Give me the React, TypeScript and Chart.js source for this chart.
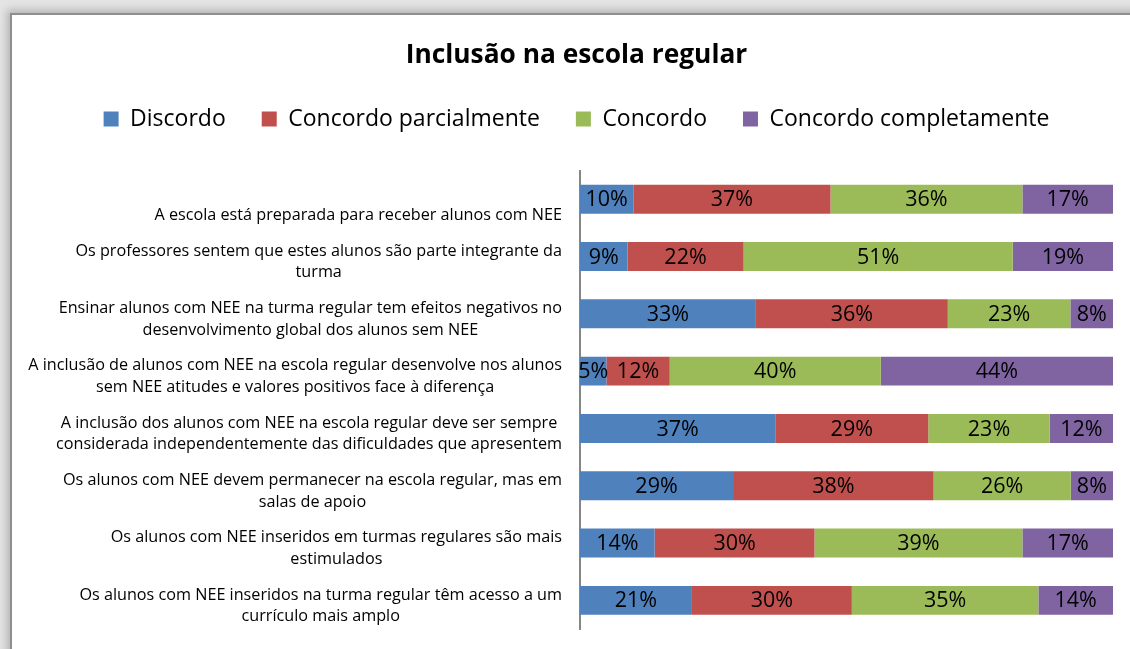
import React, { useEffect, useRef } from 'react';
import { Chart, registerables } from 'chart.js';

Chart.register(...registerables);

const FONT = '"Open Sans", "Noto Sans", sans-serif';

const title = 'Inclusão na escola regular';

const seriesNames = ['Discordo', 'Concordo parcialmente', 'Concordo', 'Concordo completamente'];
const seriesColors = ['#4F81BD', '#C0504D', '#9BBB59', '#8064A2'];

const categories: string[][] = [
  ['', 'A escola está preparada para receber alunos com NEE'],
  ['Os professores sentem que estes alunos são parte integrante da', 'turma'],
  ['Ensinar alunos com NEE na turma regular tem efeitos negativos no', 'desenvolvimento global dos alunos sem NEE'],
  ['A inclusão de alunos com NEE na escola regular desenvolve nos alunos', 'sem NEE atitudes e valores positivos face à diferença'],
  ['A inclusão dos alunos com NEE na escola regular deve ser sempre', 'considerada independentemente das dificuldades que apresentem'],
  ['Os alunos com NEE devem permanecer na escola regular, mas em', 'salas de apoio'],
  ['Os alunos com NEE inseridos em turmas regulares são mais', 'estimulados'],
  ['Os alunos com NEE inseridos na turma regular têm acesso a um', 'currículo mais amplo'],
];

const discordo = [10, 9, 33, 5, 37, 29, 14, 21];
const concordoParcialmente = [37, 22, 36, 12, 29, 38, 30, 30];
const concordo = [36, 51, 23, 40, 23, 26, 39, 35];
const concordoCompletamente = [17, 19, 8, 44, 12, 8, 17, 14];

const seriesValues = [discordo, concordoParcialmente, concordo, concordoCompletamente];

const CAT_FONT_SIZE = 16.2;
const CAT_LINE_H = 21.5;
const CAT_Y_OFFSET = 5.5;
const LABEL_FONT_SIZE = 21.5;
const LEGEND_EXTRA = 30;

const legendSpacingPlugin = {
  id: 'legendSpacing',
  beforeInit(chart: any) {
    const legend = chart.legend;
    if (!legend) return;
    const origFit = legend.fit;
    legend.fit = function fit() {
      origFit.bind(legend)();
      this.height += LEGEND_EXTRA;
    };
  },
};

const categoryLabelsPlugin = {
  id: 'categoryLabels',
  afterDraw(chart: any) {
    const ctx = chart.ctx;
    const yScale = chart.scales.y;
    const right = chart.chartArea.left - 18;
    ctx.save();
    ctx.font = `${CAT_FONT_SIZE}px ${FONT}`;
    ctx.fillStyle = '#000';
    ctx.textAlign = 'center';
    ctx.textBaseline = 'middle';
    categories.forEach((lines, i) => {
      const maxW = Math.max(...lines.map((l) => ctx.measureText(l).width));
      const cx = right - maxW / 2;
      const yc = yScale.getPixelForValue(i) + CAT_Y_OFFSET;
      const start = yc - ((lines.length - 1) * CAT_LINE_H) / 2;
      lines.forEach((l, j) => ctx.fillText(l, cx, start + j * CAT_LINE_H));
    });
    ctx.restore();
  },
};

const barLabelsPlugin = {
  id: 'barLabels',
  afterDatasetsDraw(chart: any) {
    const ctx = chart.ctx;
    ctx.save();
    ctx.font = `${LABEL_FONT_SIZE}px ${FONT}`;
    ctx.fillStyle = '#000';
    ctx.textAlign = 'center';
    ctx.textBaseline = 'middle';
    chart.data.datasets.forEach((ds: any, di: number) => {
      const meta = chart.getDatasetMeta(di);
      meta.data.forEach((el: any, i: number) => {
        const p = el.getProps(['x', 'base', 'y'], true);
        ctx.fillText(`${ds.rawValues[i]}%`, (p.x + p.base) / 2, p.y + 1);
      });
    });
    ctx.restore();
  },
};

export default function App() {
  const canvasRef = useRef<HTMLCanvasElement>(null);

  useEffect(() => {
    document.body.style.margin = '0';
    const rowSums = categories.map((_, i) => seriesValues.reduce((s, arr) => s + arr[i], 0));
    const chart = new Chart(canvasRef.current!, {
      type: 'bar',
      data: {
        labels: categories.map((l) => l.filter(Boolean).join(' ')),
        datasets: seriesNames.map((name, k) => ({
          label: name,
          data: seriesValues[k].map((v, i) => (v / rowSums[i]) * 100),
          rawValues: seriesValues[k],
          backgroundColor: seriesColors[k],
          borderWidth: 0,
          categoryPercentage: 1,
          barPercentage: 0.505,
        })) as any,
      },
      options: {
        indexAxis: 'y',
        animation: false,
        responsive: false,
        maintainAspectRatio: false,
        layout: { padding: { left: 40, right: 17, top: 0, bottom: 20 } },
        scales: {
          x: { stacked: true, min: 0, max: 100, display: false },
          y: {
            stacked: true,
            grid: { display: false, drawTicks: false },
            border: { display: true, color: '#868686', width: 2 },
            ticks: { display: false },
            afterFit: (scale: any) => {
              scale.width = 540;
            },
          },
        },
        plugins: {
          title: {
            display: true,
            text: title,
            color: '#000',
            font: { family: FONT, size: 26.3, weight: 'bold' },
            padding: { top: 40, bottom: 0 },
          },
          legend: {
            display: true,
            position: 'top',
            labels: {
              color: '#000',
              font: { family: FONT, size: 23 },
              boxWidth: 15,
              boxHeight: 15,
              padding: 36,
            },
          },
          tooltip: { enabled: false },
        },
      },
      plugins: [legendSpacingPlugin, barLabelsPlugin, categoryLabelsPlugin],
    });
    return () => chart.destroy();
  }, []);

  return (
    <div
      style={{
        position: 'fixed',
        left: 0,
        top: 0,
        width: 1130,
        height: 649,
        overflow: 'hidden',
        background: '#e4e4e4',
      }}
    >
      <div
        style={{
          position: 'absolute',
          left: 10,
          top: 13,
          width: 1200,
          height: 700,
          background: '#fff',
          border: '2px solid #8e8e8e',
          boxShadow: '0 0 8px 3px rgba(0,0,0,0.22)',
        }}
      />
      <canvas ref={canvasRef} width={1130} height={649} style={{ position: 'absolute', left: 0, top: 0 }} />
    </div>
  );
}
